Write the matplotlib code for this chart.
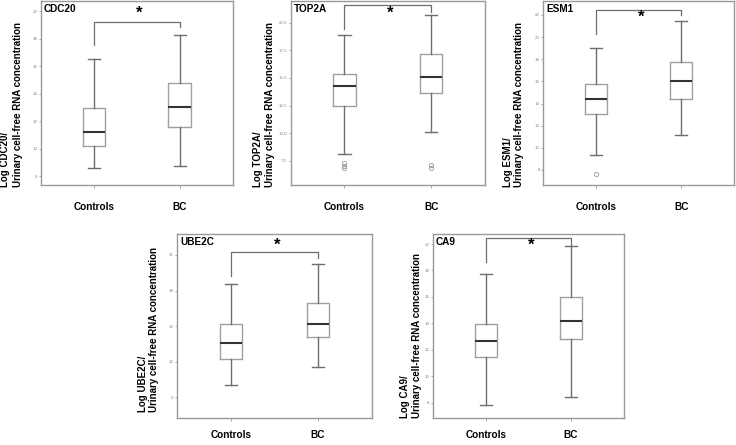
import matplotlib
matplotlib.use("Agg")
import matplotlib.pyplot as plt

plt.rcParams['font.family'] = ['Liberation Sans', 'DejaVu Sans']

# box stats: [whislo, q1, med, q3, whishi]
groups = ['Controls', 'BC']
genes = ['CDC20', 'TOP2A', 'ESM1', 'UBE2C', 'CA9']

cdc20_controls = [8.58, 10.18, 11.2, 12.92, 16.53]
cdc20_bc = [8.75, 11.56, 13.04, 14.74, 18.28]
top2a_controls = [8.11, 12.43, 14.27, 15.33, 18.89]
top2a_bc = [10.13, 13.6, 15.11, 17.14, 20.7]
esm1_controls = [9.38, 13.03, 14.38, 15.79, 19.02]
esm1_bc = [11.16, 14.38, 16.07, 17.73, 21.46]
ube2c_controls = [10.04, 12.21, 13.55, 15.16, 18.53]
ube2c_bc = [11.58, 14.06, 15.18, 16.93, 20.22]
ca9_controls = [7.83, 11.43, 12.67, 13.97, 17.71]
ca9_bc = [8.41, 12.84, 14.2, 16.02, 19.87]

top2a_controls_out = [7.26, 7.05, 6.81]
top2a_bc_out = [7.11, 6.84]
esm1_controls_out = [7.66]

yticks = {
    'CDC20': [8, 10, 12, 14, 16, 18, 20],
    'TOP2A': [7.5, 10.0, 12.5, 15.0, 17.5, 20.0],
    'ESM1': [8, 10, 12, 14, 16, 18, 20, 22],
    'UBE2C': [9, 12, 15, 18, 21],
    'CA9': [8, 10, 12, 14, 16, 18, 20],
}
ylims = {'CDC20': (7.35, 20.73), 'TOP2A': (5.3, 21.97), 'ESM1': (6.64, 23.26),
         'UBE2C': (7.26, 22.77), 'CA9': (6.84, 20.76)}

# bracket: bar height, left leg end, right leg end, star height
brackets = {'CDC20': (19.2, 17.53, 18.81, 19.85),
            'TOP2A': (21.6, 19.43, 20.97, 20.9),
            'ESM1': (22.45, 20.28, 22.0, 21.79),
            'UBE2C': (21.28, 19.25, 20.72, 21.84),
            'CA9': (20.43, 18.66, 19.92, 19.92)}

data = {
    'CDC20': (cdc20_controls, cdc20_bc, [], []),
    'TOP2A': (top2a_controls, top2a_bc, top2a_controls_out, top2a_bc_out),
    'ESM1': (esm1_controls, esm1_bc, esm1_controls_out, []),
    'UBE2C': (ube2c_controls, ube2c_bc, [], []),
    'CA9': (ca9_controls, ca9_bc, [], []),
}

W, H = 736, 445
# panel pixel boxes: left, right, top, bottom
panels = {'CDC20': (40.7, 232.7, 1, 185),
          'TOP2A': (290.7, 485, 1, 185),
          'ESM1': (543.3, 734, 1, 185),
          'UBE2C': (177, 372, 234, 418),
          'CA9': (432.7, 624, 234, 418)}
# y label: x of line 1, x of line 2, bottom
ylab_pos = {'CDC20': (5, 18, 187), 'TOP2A': (258, 270, 187), 'ESM1': (508, 519, 187),
            'UBE2C': (143, 154, 412), 'CA9': (405, 417, 418)}

fig = plt.figure(figsize=(W / 100, H / 100), dpi=100)

frame_c = '#999999'
for g in genes:
    l, r, t, b = panels[g]
    ax = fig.add_axes([l / W, 1 - b / H, (r - l) / W, (b - t) / H])
    c_stats, b_stats, c_out, b_out = data[g]
    stats = []
    for s, out in [(c_stats, c_out), (b_stats, b_out)]:
        stats.append(dict(whislo=s[0], q1=s[1], med=s[2], q3=s[3], whishi=s[4], fliers=out))
    ax.bxp(stats, positions=[1, 2], widths=0.26, capwidths=0.14, showfliers=True,
           boxprops=dict(color='#a0a0a0', lw=1.0),
           whiskerprops=dict(color='#6e6e6e', lw=1.0),
           capprops=dict(color='#6e6e6e', lw=1.0),
           medianprops=dict(color='#333333', lw=1.5),
           flierprops=dict(marker='o', markersize=3, markerfacecolor='none',
                           markeredgecolor='#999999', markeredgewidth=0.6))
    ax.set_xlim(0.38, 2.62)
    ax.set_ylim(*ylims[g])
    ax.set_yticks(yticks[g])
    if g == 'TOP2A':
        ax.set_yticklabels(['%.1f' % v for v in yticks[g]])
    else:
        ax.set_yticklabels([str(v) for v in yticks[g]])
    ax.tick_params(axis='y', length=1.5, width=0.6, color='#999999', labelsize=3.2,
                   labelcolor='#888888', pad=1)
    ax.set_xticks([1, 2])
    ax.set_xticklabels(groups, fontsize=7.2, fontweight='bold')
    xpad = 10.2 if t < 100 else 6.3
    ax.tick_params(axis='x', length=2.2, width=0.6, color='#999999', pad=xpad)
    for sp in ax.spines.values():
        sp.set_color(frame_c)
        sp.set_linewidth(1.0)

    bar, lleg, rleg, star = brackets[g]
    ax.plot([1, 1, 2, 2], [lleg, bar, bar, rleg], color='#6e6e6e', lw=0.9)
    ax.text(1.53, star, '*', ha='center', va='center', fontsize=12, fontweight='bold')
    ax.text(0.015, 0.985, g, transform=ax.transAxes, ha='left', va='top',
            fontsize=7.2, fontweight='bold')

    x1, x2, yb = ylab_pos[g]
    fig.text(x1 / W, 1 - yb / H, 'Log %s/' % g, rotation=90, ha='center', va='bottom',
             fontsize=7.0, fontweight='bold')
    fig.text(x2 / W, 1 - yb / H, 'Urinary cell-free RNA concentration', rotation=90,
             ha='center', va='bottom', fontsize=7.0, fontweight='bold')

fig.savefig('out.png', dpi=100)
